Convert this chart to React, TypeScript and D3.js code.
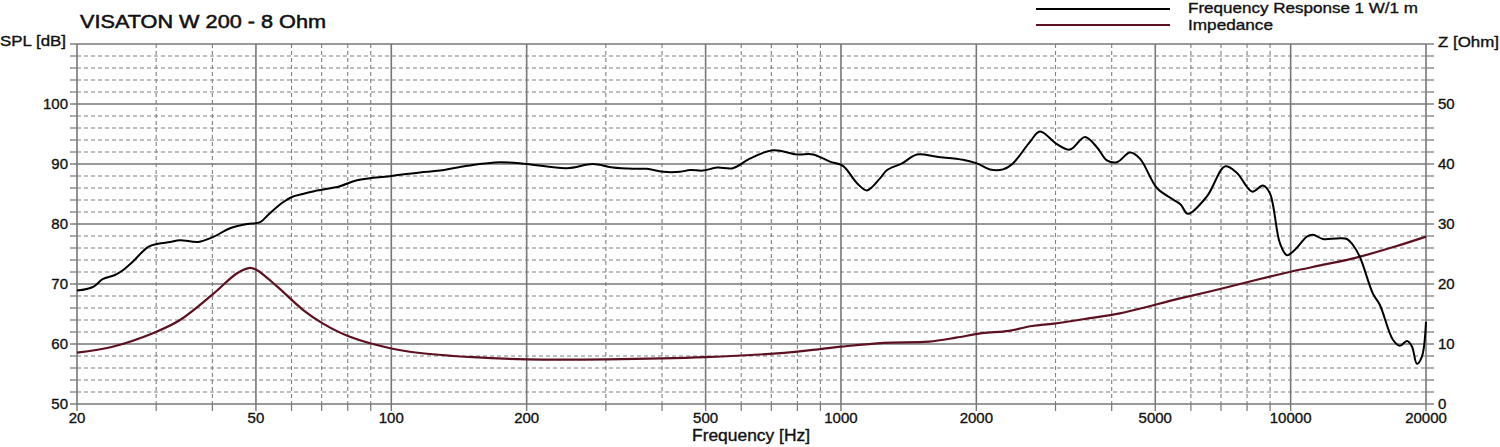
import React from "react";
import * as d3 from "d3";

// ---- data (frequency in Hz) ----
const splFreq = [
  20, 21.7, 22.8, 24.3, 25.2, 26.6, 28.8, 30.3, 32.2, 33.9, 37.2, 40.1, 43.8, 47.8, 51.1, 53.2, 57.1, 60.1, 63.6, 67.7,
  70.1, 76.9, 83.9, 100, 104.6, 115.8, 128.3, 147.3, 174.5, 200, 245.8, 280.8, 311, 345, 370, 402, 439, 462, 493, 530,
  575, 627, 706, 798, 867, 945, 1010, 1086, 1142, 1221, 1266, 1367, 1476, 1635, 1868, 2006, 2144, 2292, 2412, 2632,
  2770, 3022, 3230, 3488, 3708, 3904, 4110, 4392, 4622, 5042, 5472, 5700, 5908, 6514, 7144, 7596, 8204, 8678, 8994,
  9466, 9812, 10222, 10870, 11210, 11796, 12676, 13342, 13760, 14258, 15238, 15796, 16884, 17500, 18140, 18610,
  19088, 19586, 20000,
];
const splDb = [
  68.9, 69.5, 70.8, 71.5, 72.2, 73.7, 76.2, 76.7, 77.0, 77.3, 77.0, 77.8, 79.3, 80.0, 80.3, 81.5, 83.5, 84.5, 85.0, 85.5,
  85.7, 86.3, 87.3, 88.0, 88.2, 88.6, 88.9, 89.7, 90.3, 90.0, 89.3, 90.0, 89.4, 89.2, 89.2, 88.7, 88.7, 89.0, 88.9, 89.4,
  89.3, 90.9, 92.3, 91.6, 91.6, 90.4, 89.7, 86.8, 85.6, 87.6, 89.0, 90.1, 91.6, 91.2, 90.7, 90.1, 89.1, 89.1, 90.1, 93.7,
  95.4, 93.3, 92.4, 94.5, 92.8, 90.6, 90.3, 91.9, 90.9, 86.0, 84.1, 83.2, 81.7, 84.6, 89.6, 88.5, 85.4, 86.4, 85.1,
  76.8, 74.8, 75.7, 77.9, 78.2, 77.5, 77.6, 77.5, 76.5, 74.5, 68.4, 66.5, 60.7, 59.7, 60.5, 59.6,
  56.7, 57.9, 63.7,
];

const impFreq = [
  20, 24.0, 29.5, 33.9, 40.1, 45.4, 48.5, 50.3, 55.7, 63.6, 70.5, 80.9, 99.4, 115.8, 152, 200, 302, 500, 721, 907, 1000,
  1246, 1569, 1802, 2058, 2364, 2660, 2976, 3578, 4172, 5674, 7000, 8500, 10000, 12000, 14000, 17000, 20000,
];
const impOhm = [
  8.55, 9.55, 11.8, 14.0, 18.3, 21.8, 22.7, 22.3, 19.6, 15.7, 13.4, 11.2, 9.3, 8.5, 7.8, 7.45, 7.45, 7.8, 8.45, 9.2, 9.55,
  10.2, 10.4, 11.05, 11.8, 12.2, 13.0, 13.4, 14.3, 15.1, 17.6, 19.2, 20.8, 22.05, 23.3, 24.4, 26.2, 27.9,
];

const majorFreqs = [20, 50, 100, 200, 500, 1000, 2000, 5000, 10000, 20000];
const minorFreqs = [30, 40, 60, 70, 80, 90, 300, 400, 600, 700, 800, 900, 3000, 4000, 6000, 7000, 8000, 9000];
const splTicks = [50, 60, 70, 80, 90, 100];
const impTicks = [0, 10, 20, 30, 40, 50];

const title = "VISATON W 200 - 8 Ohm";
const legendLabels = ["Frequency Response 1 W/1 m", "Impedance"];

const W = 1500;
const H = 447;
const L = 77;
const R = 1426;
const T = 44;
const B = 404;

const FONT = "'Liberation Sans', Arial, Helvetica, sans-serif";
const GRID = "#777";
const MINOR = "#808080";
const IMP_COLOR = "#5c1020";
const TXT = "#111";

export default function App() {
  const x = d3.scaleLog().domain([20, 20000]).range([L, R]);
  const y = d3.scaleLinear().domain([50, 110]).range([B, T]);
  const yz = d3.scaleLinear().domain([0, 60]).range([B, T]);

  const minorY = d3.range(50, 110.001, 2).filter((v) => v % 10 !== 0);
  const majorY = d3.range(50, 110.001, 10);

  const splLine = d3
    .line<number>()
    .x((_, i) => x(splFreq[i]))
    .y((d) => y(d))
    .curve(d3.curveCatmullRom.alpha(0.5));
  const impLine = d3
    .line<number>()
    .x((_, i) => x(impFreq[i]))
    .y((d) => yz(d))
    .curve(d3.curveCatmullRom.alpha(0.5));

  const textStyle = { stroke: TXT, strokeWidth: 0.35, fill: TXT } as const;

  return (
    <svg
      width={W}
      height={H}
      style={{ position: "absolute", left: 0, top: 0, background: "#fff" }}
      fontFamily={FONT}
    >
      <rect x={0} y={0} width={W} height={H} fill="#fff" />
      {/* minor grid */}
      {minorY.map((v) => (
        <g key={"my" + v}>
          <line x1={L} x2={R} y1={y(v)} y2={y(v)} stroke={MINOR} strokeWidth={1.1} strokeDasharray="4,3" />
          <line x1={L - 7} x2={L} y1={y(v)} y2={y(v)} stroke={GRID} strokeWidth={1.2} />
          <line x1={R} x2={R + 8} y1={y(v)} y2={y(v)} stroke={GRID} strokeWidth={1.2} />
        </g>
      ))}
      {minorFreqs.map((f) => (
        <g key={"mx" + f}>
          <line x1={x(f)} x2={x(f)} y1={T} y2={B} stroke={MINOR} strokeWidth={1.1} strokeDasharray="4,3" />
          <line x1={x(f)} x2={x(f)} y1={B} y2={B + 7} stroke={GRID} strokeWidth={1.2} />
        </g>
      ))}
      {/* major grid */}
      {majorY.map((v) => (
        <g key={"My" + v}>
          <line x1={L} x2={R} y1={y(v)} y2={y(v)} stroke={GRID} strokeWidth={1.6} />
          <line x1={L - 7} x2={L} y1={y(v)} y2={y(v)} stroke={GRID} strokeWidth={1.4} />
          <line x1={R} x2={R + 8} y1={y(v)} y2={y(v)} stroke={GRID} strokeWidth={1.4} />
        </g>
      ))}
      {majorFreqs.map((f) => (
        <g key={"Mx" + f}>
          <line x1={x(f)} x2={x(f)} y1={T} y2={B} stroke={GRID} strokeWidth={1.6} />
          <line x1={x(f)} x2={x(f)} y1={B} y2={B + 7} stroke={GRID} strokeWidth={1.4} />
        </g>
      ))}

      {/* curves */}
      <path d={impLine(impOhm) || ""} fill="none" stroke={IMP_COLOR} strokeWidth={2.2} strokeLinejoin="round" />
      <path d={splLine(splDb) || ""} fill="none" stroke="#000" strokeWidth={2} strokeLinejoin="round" />

      {/* tick labels */}
      {splTicks.map((v) => (
        <text key={"lt" + v} x={68} y={y(v) + 5} textAnchor="end" fontSize={15} style={textStyle}>
          {v}
        </text>
      ))}
      {impTicks.map((v) => (
        <text key={"rt" + v} x={1438} y={yz(v) + 5} textAnchor="start" fontSize={15} style={textStyle}>
          {v}
        </text>
      ))}
      {majorFreqs.map((f) => (
        <text key={"xt" + f} x={x(f)} y={423} textAnchor="middle" fontSize={15} style={textStyle}>
          {f}
        </text>
      ))}

      {/* axis titles */}
      <text x={0} y={46} fontSize={14} textLength={66} lengthAdjust="spacingAndGlyphs" style={textStyle}>
        SPL [dB]
      </text>
      <text x={1438} y={47} fontSize={14} textLength={61} lengthAdjust="spacingAndGlyphs" style={textStyle}>
        Z [Ohm]
      </text>
      <text x={692} y={441} fontSize={16} textLength={118} lengthAdjust="spacingAndGlyphs" style={textStyle}>
        Frequency [Hz]
      </text>

      {/* title */}
      <text
        x={80}
        y={27.5}
        fontSize={18}
        textLength={246}
        lengthAdjust="spacingAndGlyphs"
        style={{ stroke: TXT, strokeWidth: 0.5, fill: TXT }}
      >
        {title}
      </text>

      {/* legend */}
      <line x1={1036} x2={1170} y1={9} y2={9} stroke="#000" strokeWidth={2} />
      <line x1={1036} x2={1170} y1={25} y2={25} stroke={IMP_COLOR} strokeWidth={2} />
      <text x={1188} y={13} fontSize={15} textLength={230} lengthAdjust="spacingAndGlyphs" style={textStyle}>
        {legendLabels[0]}
      </text>
      <text x={1188} y={29.5} fontSize={15} textLength={85} lengthAdjust="spacingAndGlyphs" style={textStyle}>
        {legendLabels[1]}
      </text>
    </svg>
  );
}
